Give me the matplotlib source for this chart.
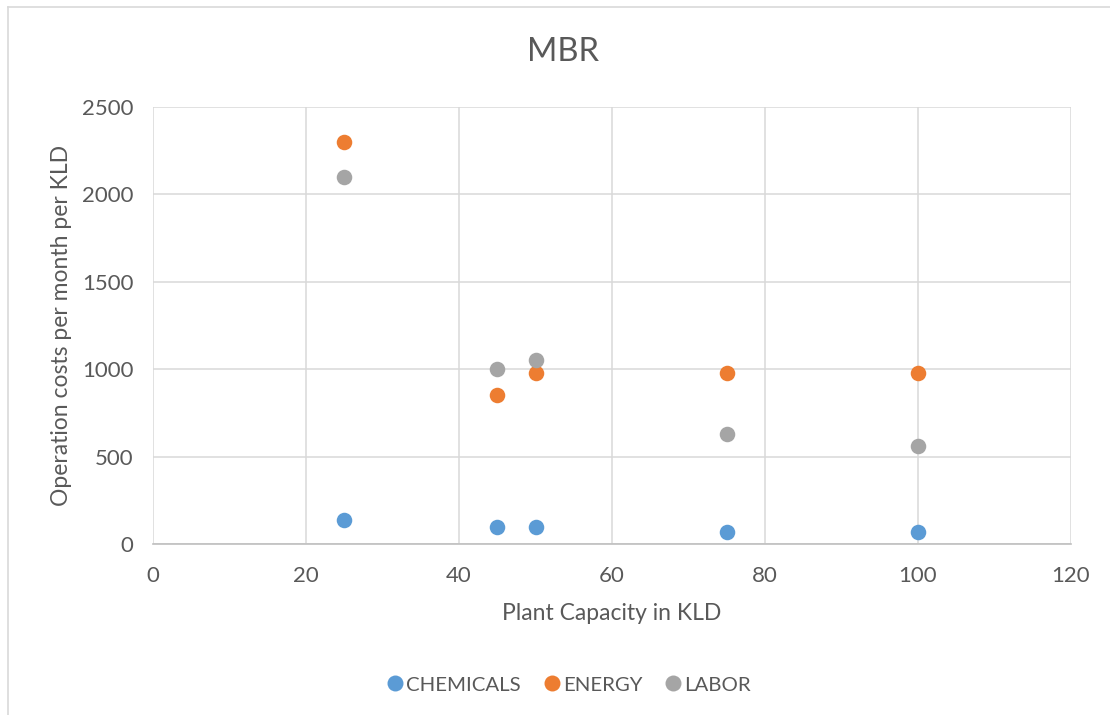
import matplotlib.pyplot as plt
from matplotlib.lines import Line2D

# plant capacity (KLD) and monthly operation cost per KLD
capacity = [25, 45, 50, 75, 100]
chemicals = [140, 100, 100, 70, 70]
energy = [2300, 850, 980, 980, 980]
labor = [2100, 1000, 1050, 630, 560]

series = ['CHEMICALS', 'ENERGY', 'LABOR']
colors = ['#5B9BD5', '#ED7D31', '#A5A5A5']

plt.rcParams['font.family'] = ['Lato', 'DejaVu Sans']
text_color = '#595959'

fig = plt.figure(figsize=(11.1, 7.15), dpi=100)
ax = fig.add_axes([153 / 1110, 1 - 544 / 715, 918 / 1110, 437 / 715])

for name, vals, c in zip(series, [chemicals, energy, labor], colors):
    ax.scatter(capacity, vals, s=125, color=c, label=name, zorder=3, linewidths=0)

ax.set_xlim(0, 120)
ax.set_ylim(0, 2500)
ax.set_xticks(range(0, 121, 20))
ax.set_yticks(range(0, 2501, 500))
ax.grid(True, color='#D9D9D9', linewidth=1.1, zorder=0)
ax.set_axisbelow(True)
for s in ['top', 'right', 'left']:
    ax.spines[s].set_visible(False)
ax.spines['bottom'].set_color('#BFBFBF')
ax.spines['bottom'].set_linewidth(1.2)
ax.tick_params(length=0, labelsize=16, colors=text_color)
ax.tick_params(axis='x', pad=16)
ax.tick_params(axis='y', pad=14)

ax.set_xlabel('Plant Capacity in KLD', fontsize=16.5, color=text_color, labelpad=12)
ax.set_ylabel('Operation costs per month per KLD', fontsize=16.5, color=text_color, labelpad=7)
fig.text(563 / 1110, 1 - 52 / 715, 'MBR', ha='center', va='center', fontsize=23.5, color=text_color)

handles = [Line2D([], [], marker='o', linestyle='', markersize=11.5, markeredgewidth=0,
                  color=c) for c in colors]
fig.legend(handles, series, loc='center', bbox_to_anchor=(568 / 1110, 1 - 685 / 715),
           ncol=3, frameon=False, fontsize=14.7, labelcolor=text_color,
           handletextpad=0.05, columnspacing=1.0, handlelength=1.0)

# outer chart border
fig.add_artist(Line2D([8 / 1110, 8 / 1110], [0, 1 - 7 / 715], color='#D9D9D9', linewidth=1.2))
fig.add_artist(Line2D([8 / 1110, 1], [1 - 7 / 715, 1 - 7 / 715], color='#D9D9D9', linewidth=1.2))

fig.savefig('out.png', dpi=100, facecolor='white')
